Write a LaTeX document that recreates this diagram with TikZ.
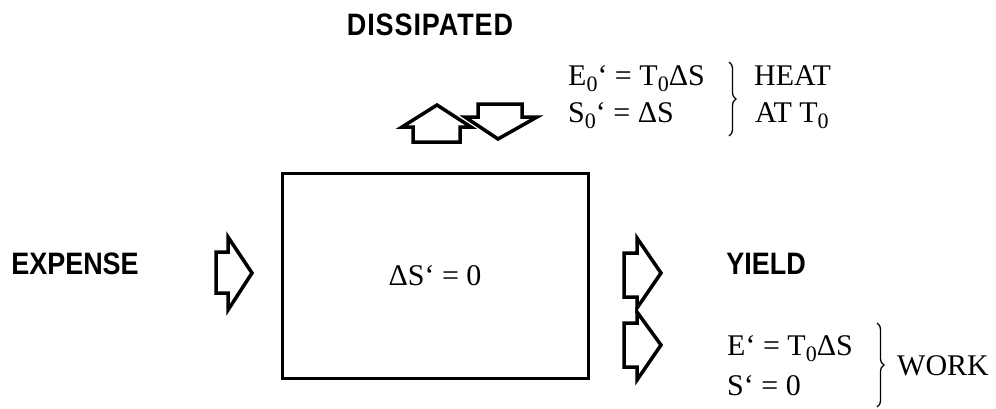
\documentclass[tikz,border=0pt]{standalone}
\usepackage{fontspec}
\setmainfont{Liberation Serif}
\newfontfamily\bsans{Liberation Sans}[FakeStretch=0.87]
\usetikzlibrary{decorations.pathreplacing}
\newcommand\zsub{\raisebox{-0.45ex}{\fontsize{22}{24}\selectfont 0}}
\begin{document}
\begin{tikzpicture}[x=1pt,y=-1pt,
  blockarrow/.style={draw=black,line width=3.5pt,line join=miter,miter limit=10},
  biglabel/.style={font=\bsans\bfseries\fontsize{31}{34}\selectfont,inner sep=0pt},
  eq/.style={font=\fontsize{30}{34}\selectfont,inner sep=0pt,anchor=base west},
  bracestyle/.style={decorate,decoration={brace,amplitude=7pt},line width=1.3pt},
  boxstyle/.style={draw=black,line width=3pt,minimum width=306pt,minimum height=205pt,
    font=\fontsize{30}{34}\selectfont}]
\useasboundingbox (0,0) rectangle (996,408);

% labels
\node[biglabel,font=\bsans\bfseries\fontsize{31}{34}\selectfont\addfontfeature{LetterSpace=3}] (dissipated) at (430,25) {DISSIPATED};
\node[biglabel] (expense) at (75,264) {EXPENSE};
\node[biglabel] (yield) at (766,264) {YIELD};

% central box
\node[boxstyle] (box) at (435,275.5) {ΔS‘ = 0};

% block arrows
\draw[blockarrow] (216,252) -- (228,252) -- (228,237) -- (252,273) -- (228,310) -- (228,293) -- (216,293) -- cycle;
\draw[blockarrow] (624,253) -- (637,253) -- (637,238) -- (661,273) -- (637,308) -- (637,297) -- (624,297) -- cycle;
\draw[blockarrow] (624,323) -- (637,323) -- (637,312) -- (661,345) -- (637,380) -- (637,367) -- (624,367) -- cycle;
\draw[blockarrow] (413,142) -- (413,127) -- (402,127) -- (437,105) -- (471,127) -- (460,127) -- (460,142) -- cycle;
\draw[blockarrow] (478,104) -- (522,104) -- (522,117) -- (537,117) -- (498,139) -- (465,117) -- (478,117) -- cycle;

% heat equations
\node[eq] (e0) at (568,85) {E\zsub‘ = T\zsub ΔS};
\node[eq] (s0) at (568,122) {S\zsub‘ = ΔS};
\coordinate (hb1) at (729,62);
\coordinate (hb2) at (729,136);
\draw[bracestyle] (hb1) -- (hb2);
\node[eq] (heat) at (754,85) {HEAT};
\node[eq] (att0) at (755,122) {AT T\zsub};

% work equations
\node[eq] (e1) at (727,355) {E‘ = T\zsub ΔS};
\node[eq] (s1) at (727,395) {S‘ = 0};
\coordinate (wb1) at (877,323);
\coordinate (wb2) at (877,407);
\draw[bracestyle] (wb1) -- (wb2);
\node[eq] (work) at (897,375) {WORK};
\end{tikzpicture}
\end{document}
